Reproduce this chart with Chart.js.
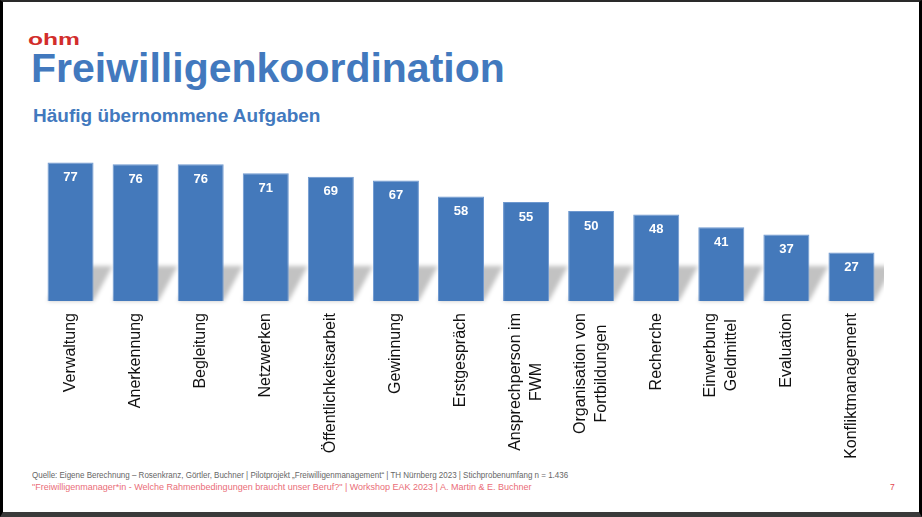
<!DOCTYPE html>
<html>
<head>
<meta charset="utf-8">
<script src="https://cdn.jsdelivr.net/npm/chart.js@4.4.1/dist/chart.umd.min.js"></script>
<style>
  body { margin: 0; width: 922px; height: 517px; background: #fff; position: relative; overflow: hidden; font-family: "Liberation Sans", Arial, sans-serif; }
  .frame { position: absolute; left: 0; top: 0; width: 922px; height: 517px; box-sizing: border-box;
           border-left: 3px solid #000; border-top: 2px solid #2a2a2a; border-right: 3px solid #000; border-bottom: 5px solid #3a3a3a; }
  .t { position: absolute; white-space: nowrap; line-height: 1; }
  #logo { left: 28px; top: 31px; font-size: 17px; font-weight: bold; color: #d22d2b; transform-origin: 0 0; transform: scaleX(1.45); }
  #title { left: 31px; top: 48px; font-size: 41px; font-weight: bold; color: #4279be; }
  #sub { left: 33px; top: 106px; font-size: 19px; font-weight: bold; color: #4279be; }
  #src { left: 32px; top: 471px; font-size: 8.5px; color: #666; transform-origin: 0 0; transform: scaleX(0.94); }
  #ws { left: 32px; top: 483px; font-size: 9px; color: #ea6d78; }
  #page { left: 890px; top: 483px; font-size: 8.5px; color: #e2454f; }
  #wrap { position: absolute; left: 38px; top: 139px; width: 846px; height: 326px; }
</style>
</head>
<body>
<div class="frame"></div>
<div class="t" id="logo">ohm</div>
<div class="t" id="title">Freiwilligenkoordination</div>
<div class="t" id="sub">Häufig übernommene Aufgaben</div>
<div id="wrap"><canvas id="chart"></canvas></div>
<div class="t" id="src">Quelle: Eigene Berechnung – Rosenkranz, Görtler, Buchner | Pilotprojekt „Freiwilligenmanagement“ | TH Nürnberg 2023 | Stichprobenumfang n = 1.436</div>
<div class="t" id="ws">"Freiwilligenmanager*in - Welche Rahmenbedingungen braucht unser Beruf?" | Workshop EAK 2023 | A. Martin &amp; E. Buchner</div>
<div class="t" id="page">7</div>
<script>
const categories = [
    ['Verwaltung'], ['Anerkennung'], ['Begleitung'], ['Netzwerken'], ['Öffentlichkeitsarbeit'],
    ['Gewinnung'], ['Erstgespräch'], ['Ansprechperson im', 'FWM'], ['Organisation von', 'Fortbildungen'],
    ['Recherche'], ['Einwerbung', 'Geldmittel'], ['Evaluation'], ['Konfliktmanagement']
];
const values = [77, 76, 76, 71, 69, 67, 58, 55, 50, 48, 41, 37, 27];

// grey slanted shadow behind the bars
const barShadow = {
    id: 'barShadow',
    beforeDatasetsDraw(chart) {
        const ctx = chart.ctx;
        const bars = chart.getDatasetMeta(0).data;
        ctx.save();
        ctx.filter = 'blur(2px)';
        ctx.fillStyle = 'rgba(0,0,0,0.24)';
        bars.forEach(b => {
            const l = b.x - b.width / 2, r = b.x + b.width / 2;
            ctx.beginPath();
            ctx.moveTo(l, b.base);
            ctx.lineTo(r, b.base);
            ctx.lineTo(r + 19, b.base - 35);
            ctx.lineTo(l + 19, b.base - 35);
            ctx.closePath();
            ctx.fill();
        });
        ctx.restore();
    }
};

// value labels inside the bars
const valueLabels = {
    id: 'valueLabels',
    afterDatasetsDraw(chart) {
        const ctx = chart.ctx;
        ctx.save();
        ctx.fillStyle = '#fff';
        ctx.font = 'bold 13px "Liberation Sans", Arial, sans-serif';
        ctx.textAlign = 'center';
        ctx.textBaseline = 'middle';
        chart.getDatasetMeta(0).data.forEach((b, i) => {
            ctx.fillText(values[i], b.x, b.y + 15);
        });
        ctx.restore();
    }
};

// rotated category labels, lines centred on each other
const catLabels = {
    id: 'catLabels',
    afterDraw(chart) {
        const ctx = chart.ctx;
        const xs = chart.scales.x;
        const top = chart.chartArea.bottom + 12;
        ctx.save();
        ctx.fillStyle = '#111';
        ctx.font = '16px "Liberation Sans", Arial, sans-serif';
        ctx.textAlign = 'center';
        ctx.textBaseline = 'middle';
        categories.forEach((lines, i) => {
            const x = xs.getPixelForValue(i);
            const w = Math.max(...lines.map(s => ctx.measureText(s).width));
            ctx.save();
            ctx.translate(x, top);
            ctx.rotate(-Math.PI / 2);
            lines.forEach((s, j) => {
                ctx.fillText(s, -w / 2, (j - (lines.length - 1) / 2) * 21);
            });
            ctx.restore();
        });
        ctx.restore();
    }
};

new Chart(document.getElementById('chart'), {
    type: 'bar',
    data: {
        labels: categories,
        datasets: [{
            data: values,
            backgroundColor: '#4479bb',
            borderColor: '#6e98cf',
            borderWidth: 1,
            barPercentage: 0.707,
            categoryPercentage: 1
        }]
    },
    options: {
        responsive: true,
        maintainAspectRatio: false,
        animation: false,
        layout: { padding: 0 },
        plugins: { legend: { display: false }, tooltip: { enabled: false } },
        scales: {
            x: {
                grid: { display: false },
                border: { display: false },
                ticks: { display: false },
                afterFit: s => { s.height = 164; }
            },
            y: { display: false, min: 0, max: 90 }
        }
    },
    plugins: [barShadow, valueLabels, catLabels]
});
</script>
</body>
</html>
